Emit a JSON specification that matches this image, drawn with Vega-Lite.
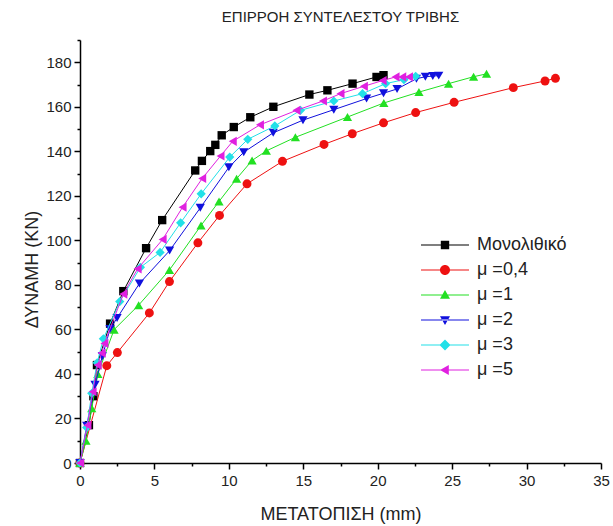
{
  "$schema": "https://vega.github.io/schema/vega-lite/v6.json",
  "width": 521,
  "height": 423,
  "autosize": {"type": "none"},
  "padding": {"left": 80, "top": 40, "right": 12, "bottom": 63},
  "title": {"text": "ΕΠΙΡΡΟΗ ΣΥΝΤΕΛΕΣΤΟΥ ΤΡΙΒΗΣ", "fontSize": 15, "fontWeight": "normal", "font": "Liberation Sans", "color": "#222222", "offset": 14},
  "config": {"view": {"stroke": null}, "font": "Liberation Sans"},
  "data": {"values": [
    {"s": "Μονολιθικό", "x": 0, "y": 0},
    {"s": "Μονολιθικό", "x": 0.6, "y": 17},
    {"s": "Μονολιθικό", "x": 0.9, "y": 30},
    {"s": "Μονολιθικό", "x": 1.14, "y": 44.0},
    {"s": "Μονολιθικό", "x": 2.02, "y": 62.6},
    {"s": "Μονολιθικό", "x": 2.91, "y": 77.2},
    {"s": "Μονολιθικό", "x": 4.44, "y": 96.5},
    {"s": "Μονολιθικό", "x": 5.52, "y": 109.1},
    {"s": "Μονολιθικό", "x": 7.74, "y": 131.4},
    {"s": "Μονολιθικό", "x": 8.19, "y": 135.7},
    {"s": "Μονολιθικό", "x": 8.75, "y": 140.1},
    {"s": "Μονολιθικό", "x": 9.09, "y": 142.9},
    {"s": "Μονολιθικό", "x": 9.52, "y": 147.2},
    {"s": "Μονολιθικό", "x": 10.33, "y": 150.9},
    {"s": "Μονολιθικό", "x": 11.44, "y": 155.3},
    {"s": "Μονολιθικό", "x": 12.99, "y": 160.0},
    {"s": "Μονολιθικό", "x": 15.41, "y": 165.5},
    {"s": "Μονολιθικό", "x": 16.62, "y": 167.4},
    {"s": "Μονολιθικό", "x": 18.31, "y": 170.4},
    {"s": "Μονολιθικό", "x": 19.92, "y": 173.4},
    {"s": "Μονολιθικό", "x": 20.39, "y": 174.2},
    {"s": "μ =0,4", "x": 0, "y": 0},
    {"s": "μ =0,4", "x": 1.80, "y": 43.7},
    {"s": "μ =0,4", "x": 2.51, "y": 49.6},
    {"s": "μ =0,4", "x": 4.66, "y": 67.4},
    {"s": "μ =0,4", "x": 6.01, "y": 81.5},
    {"s": "μ =0,4", "x": 7.92, "y": 98.9},
    {"s": "μ =0,4", "x": 9.37, "y": 111.2},
    {"s": "μ =0,4", "x": 11.22, "y": 125.4},
    {"s": "μ =0,4", "x": 13.60, "y": 135.5},
    {"s": "μ =0,4", "x": 16.39, "y": 143.1},
    {"s": "μ =0,4", "x": 18.29, "y": 147.9},
    {"s": "μ =0,4", "x": 20.39, "y": 152.8},
    {"s": "μ =0,4", "x": 22.55, "y": 157.4},
    {"s": "μ =0,4", "x": 25.13, "y": 162.0},
    {"s": "μ =0,4", "x": 29.11, "y": 168.6},
    {"s": "μ =0,4", "x": 31.24, "y": 171.6},
    {"s": "μ =0,4", "x": 31.94, "y": 172.8},
    {"s": "μ =1", "x": 0, "y": 0},
    {"s": "μ =1", "x": 0.4, "y": 10},
    {"s": "μ =1", "x": 0.79, "y": 24.6},
    {"s": "μ =1", "x": 1.2, "y": 40},
    {"s": "μ =1", "x": 2.29, "y": 59.9},
    {"s": "μ =1", "x": 3.94, "y": 70.9},
    {"s": "μ =1", "x": 6.01, "y": 86.7},
    {"s": "μ =1", "x": 8.13, "y": 106.7},
    {"s": "μ =1", "x": 9.34, "y": 117.5},
    {"s": "μ =1", "x": 10.52, "y": 127.7},
    {"s": "μ =1", "x": 11.56, "y": 135.9},
    {"s": "μ =1", "x": 12.52, "y": 140.2},
    {"s": "μ =1", "x": 14.47, "y": 146.3},
    {"s": "μ =1", "x": 17.97, "y": 155.4},
    {"s": "μ =1", "x": 20.41, "y": 161.7},
    {"s": "μ =1", "x": 22.77, "y": 166.6},
    {"s": "μ =1", "x": 24.76, "y": 170.4},
    {"s": "μ =1", "x": 26.44, "y": 173.5},
    {"s": "μ =1", "x": 27.31, "y": 174.8},
    {"s": "μ =2", "x": 0, "y": 0},
    {"s": "μ =2", "x": 0.45, "y": 16.7},
    {"s": "μ =2", "x": 1.01, "y": 35.1},
    {"s": "μ =2", "x": 1.5, "y": 48},
    {"s": "μ =2", "x": 2.02, "y": 60.2},
    {"s": "μ =2", "x": 2.49, "y": 65.1},
    {"s": "μ =2", "x": 3.99, "y": 80.6},
    {"s": "μ =2", "x": 6.02, "y": 95.4},
    {"s": "μ =2", "x": 8.08, "y": 114.6},
    {"s": "μ =2", "x": 10.0, "y": 132.8},
    {"s": "μ =2", "x": 11.0, "y": 139.6},
    {"s": "μ =2", "x": 12.98, "y": 148.3},
    {"s": "μ =2", "x": 14.98, "y": 154.0},
    {"s": "μ =2", "x": 17.05, "y": 158.7},
    {"s": "μ =2", "x": 19.25, "y": 163.7},
    {"s": "μ =2", "x": 20.39, "y": 166.1},
    {"s": "μ =2", "x": 21.30, "y": 168.0},
    {"s": "μ =2", "x": 22.6, "y": 172.6},
    {"s": "μ =2", "x": 23.2, "y": 173.5},
    {"s": "μ =2", "x": 23.7, "y": 173.8},
    {"s": "μ =2", "x": 24.1, "y": 174.0},
    {"s": "μ =3", "x": 0, "y": 0},
    {"s": "μ =3", "x": 0.45, "y": 15.9},
    {"s": "μ =3", "x": 0.79, "y": 31.3},
    {"s": "μ =3", "x": 1.15, "y": 45},
    {"s": "μ =3", "x": 1.57, "y": 55.8},
    {"s": "μ =3", "x": 2.67, "y": 72.5},
    {"s": "μ =3", "x": 4.06, "y": 87.9},
    {"s": "μ =3", "x": 5.38, "y": 94.6},
    {"s": "μ =3", "x": 6.76, "y": 107.9},
    {"s": "μ =3", "x": 8.14, "y": 120.9},
    {"s": "μ =3", "x": 10.06, "y": 137.4},
    {"s": "μ =3", "x": 11.27, "y": 145.4},
    {"s": "μ =3", "x": 13.09, "y": 151.4},
    {"s": "μ =3", "x": 14.81, "y": 158.4},
    {"s": "μ =3", "x": 17.05, "y": 162.6},
    {"s": "μ =3", "x": 18.98, "y": 165.9},
    {"s": "μ =3", "x": 20.53, "y": 170.4},
    {"s": "μ =3", "x": 21.76, "y": 172.2},
    {"s": "μ =3", "x": 22.55, "y": 173.7},
    {"s": "μ =5", "x": 0, "y": 0},
    {"s": "μ =5", "x": 0.5, "y": 17},
    {"s": "μ =5", "x": 0.85, "y": 32},
    {"s": "μ =5", "x": 1.19, "y": 44.0},
    {"s": "μ =5", "x": 1.46, "y": 49.4},
    {"s": "μ =5", "x": 1.64, "y": 53.7},
    {"s": "μ =5", "x": 2.91, "y": 75.9},
    {"s": "μ =5", "x": 3.87, "y": 87.2},
    {"s": "μ =5", "x": 5.55, "y": 100.4},
    {"s": "μ =5", "x": 6.89, "y": 114.9},
    {"s": "μ =5", "x": 8.21, "y": 127.8},
    {"s": "μ =5", "x": 9.44, "y": 137.9},
    {"s": "μ =5", "x": 10.26, "y": 144.5},
    {"s": "μ =5", "x": 12.09, "y": 151.9},
    {"s": "μ =5", "x": 14.54, "y": 158.4},
    {"s": "μ =5", "x": 16.32, "y": 162.6},
    {"s": "μ =5", "x": 17.50, "y": 165.9},
    {"s": "μ =5", "x": 19.07, "y": 169.2},
    {"s": "μ =5", "x": 20.33, "y": 171.8},
    {"s": "μ =5", "x": 21.2, "y": 173.4},
    {"s": "μ =5", "x": 21.65, "y": 173.4},
    {"s": "μ =5", "x": 22.1, "y": 173.4}
  ]},
  "layer": [
    {
      "transform": [{"filter": {"field": "s", "equal": "Μονολιθικό"}}],
      "mark": {"type": "line", "color": "#000000", "strokeWidth": 1, "clip": false,
               "point": {"filled": true, "shape": "square", "color": "#000000", "size": 70, "opacity": 1}},
      "encoding": {
        "x": {"field": "x", "type": "quantitative",
          "scale": {"domain": [0, 35], "nice": false, "zero": false},
          "axis": {"orient": "bottom", "values": [0, 5, 10, 15, 20, 25, 30, 35], "format": "d", "title": "ΜΕΤΑΤΟΠΙΣΗ (mm)", "grid": false,
            "domainColor": "#000000", "domainWidth": 1.5, "tickColor": "#000000", "tickWidth": 1.5, "tickSize": 6,
            "labelFontSize": 15, "labelColor": "#222222", "labelPadding": 4, "labelFlush": false, "labelFont": "Liberation Sans",
            "titleFontSize": 18, "titleFontWeight": "normal", "titleColor": "#222222", "titlePadding": 17, "titleFont": "Liberation Sans"}},
        "y": {"field": "y", "type": "quantitative",
          "scale": {"domain": [0, 190], "nice": false, "zero": false},
          "axis": {"orient": "left", "values": [0, 20, 40, 60, 80, 100, 120, 140, 160, 180], "format": "d", "title": "ΔΥΝΑΜΗ (KN)", "grid": false,
            "domainColor": "#000000", "domainWidth": 1.5, "tickColor": "#000000", "tickWidth": 1.5, "tickSize": 6,
            "labelFontSize": 15, "labelColor": "#222222", "labelPadding": 3, "labelFont": "Liberation Sans",
            "titleFontSize": 18, "titleFontWeight": "normal", "titleColor": "#222222", "titlePadding": 4, "titleY": 229, "titleFont": "Liberation Sans"}}
      }
    },
    {
      "transform": [{"filter": {"field": "s", "equal": "μ =0,4"}}],
      "mark": {"type": "line", "color": "#ee1111", "strokeWidth": 1, "clip": false,
               "point": {"filled": true, "shape": "circle", "color": "#ee1111", "size": 80, "opacity": 1}},
      "encoding": {"x": {"field": "x", "type": "quantitative", "axis": null}, "y": {"field": "y", "type": "quantitative", "axis": null}}
    },
    {
      "transform": [{"filter": {"field": "s", "equal": "μ =1"}}],
      "mark": {"type": "line", "color": "#22e022", "strokeWidth": 1, "clip": false,
               "point": {"filled": true, "shape": "triangle-up", "color": "#22e022", "size": 85, "opacity": 1}},
      "encoding": {"x": {"field": "x", "type": "quantitative", "axis": null}, "y": {"field": "y", "type": "quantitative", "axis": null}}
    },
    {
      "transform": [{"filter": {"field": "s", "equal": "μ =2"}}],
      "mark": {"type": "line", "color": "#1010dd", "strokeWidth": 1, "clip": false,
               "point": {"filled": true, "shape": "triangle-down", "color": "#1010dd", "size": 85, "opacity": 1}},
      "encoding": {"x": {"field": "x", "type": "quantitative", "axis": null}, "y": {"field": "y", "type": "quantitative", "axis": null}}
    },
    {
      "transform": [{"filter": {"field": "s", "equal": "μ =3"}}],
      "mark": {"type": "line", "color": "#22e0e8", "strokeWidth": 1, "clip": false,
               "point": {"filled": true, "shape": "diamond", "color": "#22e0e8", "size": 85, "opacity": 1}},
      "encoding": {"x": {"field": "x", "type": "quantitative", "axis": null}, "y": {"field": "y", "type": "quantitative", "axis": null}}
    },
    {
      "transform": [{"filter": {"field": "s", "equal": "μ =5"}}],
      "mark": {"type": "line", "color": "#e020e0", "strokeWidth": 1, "clip": false,
               "point": {"filled": true, "shape": "triangle-left", "color": "#e020e0", "size": 85, "opacity": 1}},
      "encoding": {"x": {"field": "x", "type": "quantitative", "axis": null}, "y": {"field": "y", "type": "quantitative", "axis": null}}
    },
    {
      "mark": {"type": "point", "filled": true, "opacity": 0, "size": 10, "clip": false},
      "encoding": {
        "x": {"field": "x", "type": "quantitative",
          "axis": {"orient": "bottom", "values": [2.5, 7.5, 12.5, 17.5, 22.5, 27.5, 32.5], "labels": false, "domain": false, "title": null, "grid": false,
            "tickColor": "#000000", "tickWidth": 1.5, "tickSize": 3}},
        "y": {"field": "y", "type": "quantitative",
          "axis": {"orient": "left", "values": [10, 30, 50, 70, 90, 110, 130, 150, 170, 190], "labels": false, "domain": false, "title": null, "grid": false,
            "tickColor": "#000000", "tickWidth": 1.5, "tickSize": 3}},
        "color": {"field": "s", "type": "nominal",
          "scale": {"domain": ["Μονολιθικό", "μ =0,4", "μ =1", "μ =2", "μ =3", "μ =5"],
                    "range": ["#000000", "#ee1111", "#22e022", "#1010dd", "#22e0e8", "#e020e0"]}},
        "shape": {"field": "s", "type": "nominal",
          "scale": {"domain": ["Μονολιθικό", "μ =0,4", "μ =1", "μ =2", "μ =3", "μ =5"],
                    "range": ["M-2.4,-0.05H2.4V0.05H-2.4ZM-0.42,-0.42H0.42V0.42H-0.42Z",
                              "M-2.4,-0.05H2.4V0.05H-2.4ZM-0.5,0A0.5,0.5,0,1,1,0.5,0A0.5,0.5,0,1,1,-0.5,0Z",
                              "M-2.4,-0.05H2.4V0.05H-2.4ZM0,-0.5L0.5,0.38H-0.5Z",
                              "M-2.4,-0.05H2.4V0.05H-2.4ZM0,0.5L0.5,-0.38H-0.5Z",
                              "M-2.4,-0.05H2.4V0.05H-2.4ZM0,-0.55L0.55,0L0,0.55L-0.55,0Z",
                              "M-2.4,-0.05H2.4V0.05H-2.4ZM-0.5,0L0.38,-0.5V0.5Z"]},
          "legend": {"title": null, "orient": "none", "legendX": 354, "legendY": 194, "padding": 0,
            "symbolSize": 400, "symbolOpacity": 1,
            "labelFontSize": 18, "labelFont": "Liberation Sans", "labelColor": "#222222", "labelOffset": 21, "rowPadding": 5}}
      }
    }
  ],
  "resolve": {"axis": {"x": "independent", "y": "independent"}}
}
